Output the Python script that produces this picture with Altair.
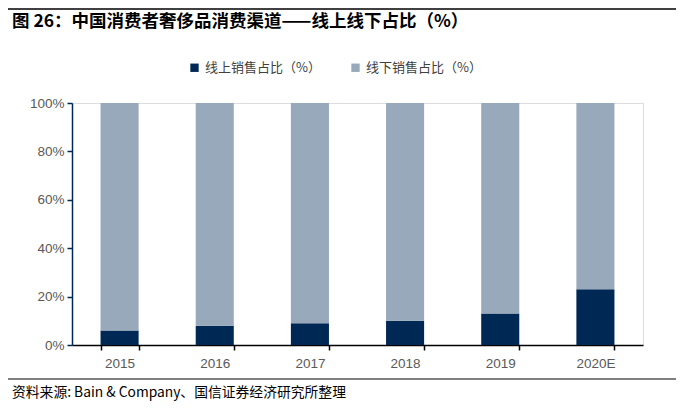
import altair as alt
import pandas as pd

years = ["2015", "2016", "2017", "2018", "2019", "2020E"]
online = [6, 8, 9, 10, 13, 23]
offline = [100 - v for v in online]
series_names = ["线上销售占比（%）", "线下销售占比（%）"]
colors = ["#002855", "#97A9BA"]

title_text = "图 26：中国消费者奢侈品消费渠道——线上线下占比（%）"
source_text = "资料来源: Bain & Company、国信证券经济研究所整理"

rows = []
for y, a, b in zip(years, online, offline):
    rows.append({"year": y, "series": series_names[0], "value": a, "ord": 0})
    rows.append({"year": y, "series": series_names[1], "value": b, "ord": 1})
df = pd.DataFrame(rows)

PL, PT = 64, 95  # plot origin offset within canvas

bars = alt.Chart(df).mark_bar().encode(
    x=alt.X("year:N", sort=years, title=None,
            scale=alt.Scale(paddingInner=0.6, paddingOuter=0.3),
            axis=alt.Axis(labelAngle=0, tickBand="extent", domainColor="#000000",
                          tickColor="#000000", tickSize=5, labelColor="#595959",
                          labelFont="Liberation Sans", labelFontSize=13.5, labelPadding=6,
                          domainWidth=1.5, tickWidth=1.5)),
    y=alt.Y("value:Q", stack="zero", title=None,
            scale=alt.Scale(domain=[0, 100]),
            axis=alt.Axis(values=[0, 20, 40, 60, 80, 100], labelExpr="datum.value + '%'",
                          grid=False, domainColor="#002855", tickColor="#002855",
                          tickSize=5, labelColor="#595959", labelFont="Liberation Sans",
                          labelFontSize=13.5, labelPadding=3, domainWidth=1.5, tickWidth=1.5)),
    color=alt.Color("series:N", sort=series_names,
                    scale=alt.Scale(domain=series_names, range=colors),
                    legend=alt.Legend(title=None, orient="none", legendX=116, legendY=-42,
                                      direction="horizontal", symbolType="square",
                                      symbolSize=70, symbolStrokeWidth=0,
                                      labelFont="Noto Sans CJK SC", labelFontSize=13,
                                      labelColor="#404040", columnPadding=28,
                                      labelLimit=300)),
    order=alt.Order("ord:Q", sort="ascending"),
)

title = alt.Chart(pd.DataFrame({"t": [title_text]})).mark_text(
    align="left", baseline="middle", font="Noto Sans CJK SC", fontSize=17.5,
    fontWeight="bold", color="#000000"
).encode(text="t:N", x=alt.value(4 - PL), y=alt.value(22 - 8 - PT))

source = alt.Chart(pd.DataFrame({"t": [source_text]})).mark_text(
    align="left", baseline="middle", font="Noto Sans CJK SC", fontSize=13.8,
    color="#000000"
).encode(text="t:N", x=alt.value(4 - PL), y=alt.value(393 - 8 - PT))

top_line = alt.Chart(pd.DataFrame({"a": [0]})).mark_rule(color="#000000", strokeWidth=1.5).encode(
    x=alt.value(-PL), x2=alt.value(684 - 8 - PL), y=alt.value(1 - PT))

sep_line = alt.Chart(pd.DataFrame({"a": [0]})).mark_rule(color="#000000", strokeWidth=1).encode(
    x=alt.value(-PL), x2=alt.value(684 - 8 - PL), y=alt.value(379 - 8 - PT))

chart = alt.layer(bars, title, source, top_line, sep_line).properties(
    width=571, height=242,
    autosize=alt.AutoSizeParams(type="none"),
    padding={"left": PL, "top": PT, "right": 684 - 16 - PL - 571, "bottom": 393 - PT - 242},
).configure_view(stroke=None).configure(background="#ffffff")

chart.save("out.html", embed_options={"renderer": "svg", "actions": False})
